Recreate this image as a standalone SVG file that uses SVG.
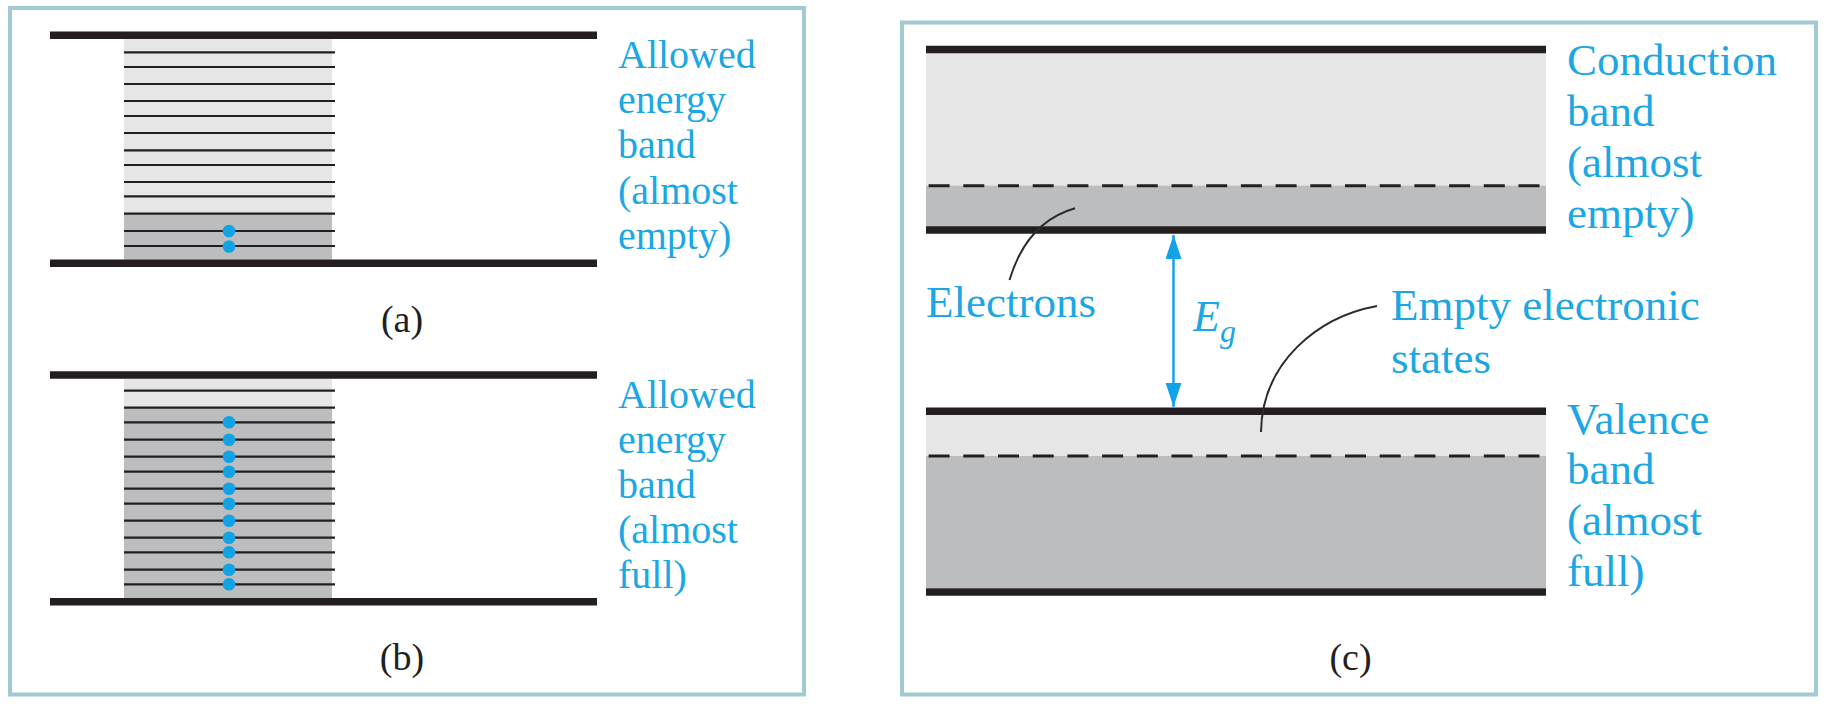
<svg xmlns="http://www.w3.org/2000/svg" width="1828" height="710" viewBox="0 0 1828 710">
<style>
.panel{fill:#fff;stroke:#A2CAD3;stroke-width:4}
.thick{stroke:#231F20;stroke-width:7.5}
.thin{stroke:#231F20;stroke-width:2.2}
.dash{stroke:#231F20;stroke-width:3;stroke-dasharray:21 13.7}
.light{fill:#E6E6E7}
.dark{fill:#BCBDBF}
.dot{fill:#12A3E6}
.lbl{fill:#1CA7E4}
.sm{font-size:40px}
.lg{font-size:45px}
.cap{font-size:38px;fill:#231F20;text-anchor:middle}
.lead{fill:none;stroke:#2b2b2b;stroke-width:2}
.gap{stroke:#12A3E6;stroke-width:2.5}
</style>
<defs>
<marker id="ah" viewBox="0 0 24 16" refX="24" refY="8" markerWidth="24" markerHeight="16" markerUnits="userSpaceOnUse" orient="auto-start-reverse">
<path d="M0,0 L24,8 L0,16 Z" fill="#12A3E6"/>
</marker>
</defs>

<g font-family="'Liberation Serif', 'Times New Roman', Tinos, 'DejaVu Serif', serif">
<g id="panel-a">
<rect class="panel" x="10" y="8" width="794" height="686.5"/>
<rect class="light" x="124" y="38" width="208" height="176"/>
<rect class="dark" x="124" y="213.7" width="208" height="46"/>
<g class="thin">
<line x1="124" y1="52.3" x2="335" y2="52.3"/>
<line x1="124" y1="67" x2="335" y2="67"/>
<line x1="124" y1="84" x2="335" y2="84"/>
<line x1="124" y1="101" x2="335" y2="101"/>
<line x1="124" y1="116" x2="335" y2="116"/>
<line x1="124" y1="133" x2="335" y2="133"/>
<line x1="124" y1="150.3" x2="335" y2="150.3"/>
<line x1="124" y1="165" x2="335" y2="165"/>
<line x1="124" y1="182" x2="335" y2="182"/>
<line x1="124" y1="196.3" x2="335" y2="196.3"/>
<line x1="124" y1="213.7" x2="335" y2="213.7"/>
<line x1="124" y1="231" x2="335" y2="231"/>
<line x1="124" y1="246" x2="335" y2="246"/>
</g>
<line class="thick" x1="50" y1="35.3" x2="597" y2="35.3"/>
<line class="thick" x1="50" y1="263.3" x2="597" y2="263.3"/>
<circle class="dot" cx="229" cy="231" r="6.3"/>
<circle class="dot" cx="229" cy="246.5" r="6.3"/>
<text class="lbl sm" x="618"><tspan x="618" y="68.3">Allowed</tspan><tspan x="618" y="113.3">energy</tspan><tspan x="618" y="158.3">band</tspan><tspan x="618" y="204">(almost</tspan><tspan x="618" y="248.5">empty)</tspan></text>
<text class="cap" x="402" y="332">(a)</text>
</g>

<g id="panel-b">
<rect class="light" x="124" y="379" width="208" height="29"/>
<rect class="dark" x="124" y="407.7" width="208" height="191"/>
<g class="thin">
<line x1="124" y1="390.7" x2="335" y2="390.7"/>
<line x1="124" y1="407.7" x2="335" y2="407.7"/>
<line x1="124" y1="422.3" x2="335" y2="422.3"/>
<line x1="124" y1="439.7" x2="335" y2="439.7"/>
<line x1="124" y1="456.7" x2="335" y2="456.7"/>
<line x1="124" y1="471.7" x2="335" y2="471.7"/>
<line x1="124" y1="488.7" x2="335" y2="488.7"/>
<line x1="124" y1="503.7" x2="335" y2="503.7"/>
<line x1="124" y1="520.7" x2="335" y2="520.7"/>
<line x1="124" y1="537.7" x2="335" y2="537.7"/>
<line x1="124" y1="552.3" x2="335" y2="552.3"/>
<line x1="124" y1="569.7" x2="335" y2="569.7"/>
<line x1="124" y1="584.3" x2="335" y2="584.3"/>
</g>
<line class="thick" x1="50" y1="375" x2="597" y2="375"/>
<line class="thick" x1="50" y1="601.7" x2="597" y2="601.7"/>
<g class="dot">
<circle cx="229" cy="422.3" r="6.3"/>
<circle cx="229" cy="439.7" r="6.3"/>
<circle cx="229" cy="456.7" r="6.3"/>
<circle cx="229" cy="471.7" r="6.3"/>
<circle cx="229" cy="488.7" r="6.3"/>
<circle cx="229" cy="503.7" r="6.3"/>
<circle cx="229" cy="520.7" r="6.3"/>
<circle cx="229" cy="537.7" r="6.3"/>
<circle cx="229" cy="552.3" r="6.3"/>
<circle cx="229" cy="569.7" r="6.3"/>
<circle cx="229" cy="584.3" r="6.3"/>
</g>
<text class="lbl sm" x="618"><tspan x="618" y="408.3">Allowed</tspan><tspan x="618" y="453">energy</tspan><tspan x="618" y="498">band</tspan><tspan x="618" y="543">(almost</tspan><tspan x="618" y="588">full)</tspan></text>
<text class="cap" x="402" y="670">(b)</text>
</g>

<g id="panel-c">
<rect class="panel" x="902" y="22.5" width="914" height="672"/>
<g id="conduction-band">
<rect class="light" x="926" y="53" width="620" height="133"/>
<rect class="dark" x="926" y="185.7" width="620" height="41"/>
<line class="dash" x1="928.6" y1="185.7" x2="1546" y2="185.7"/>
<line class="thick" x1="926" y1="49.5" x2="1546" y2="49.5"/>
<line class="thick" x1="926" y1="230" x2="1546" y2="230"/>
<text class="lbl lg"><tspan x="1567" y="75">Conduction</tspan><tspan x="1567" y="126">band</tspan><tspan x="1567" y="177">(almost</tspan><tspan x="1567" y="228">empty)</tspan></text>
</g>
<g id="valence-band">
<rect class="light" x="926" y="415" width="620" height="41"/>
<rect class="dark" x="926" y="456" width="620" height="132"/>
<line class="dash" x1="928.6" y1="456" x2="1546" y2="456"/>
<line class="thick" x1="926" y1="411.3" x2="1546" y2="411.3"/>
<line class="thick" x1="926" y1="592" x2="1546" y2="592"/>
<text class="lbl lg"><tspan x="1567" y="433.5">Valence</tspan><tspan x="1567" y="484">band</tspan><tspan x="1567" y="535">(almost</tspan><tspan x="1567" y="586">full)</tspan></text>
</g>
<g id="electrons-label">
<text class="lbl lg" x="926" y="317">Electrons</text>
</g>
<g id="empty-states-label">
<text class="lbl lg"><tspan x="1391" y="320">Empty electronic</tspan><tspan x="1391" y="372.5">states</tspan></text>
</g>
<g id="gap-label">
<text class="lbl" x="1193" y="331" font-size="44" font-style="italic">E<tspan font-size="32" dy="11">g</tspan></text>
</g>
<text class="cap" x="1350.5" y="670">(c)</text>
</g>
</g>

<g id="connectors">
<path class="lead" d="M1009.5,280 Q1027,222 1075,208.3"/>
<path class="lead" d="M1377,306 C1318,317 1262,362 1261,432"/>
<line class="gap" x1="1173.5" y1="235" x2="1173.5" y2="406.8" marker-start="url(#ah)" marker-end="url(#ah)"/>
</g>
</svg>
